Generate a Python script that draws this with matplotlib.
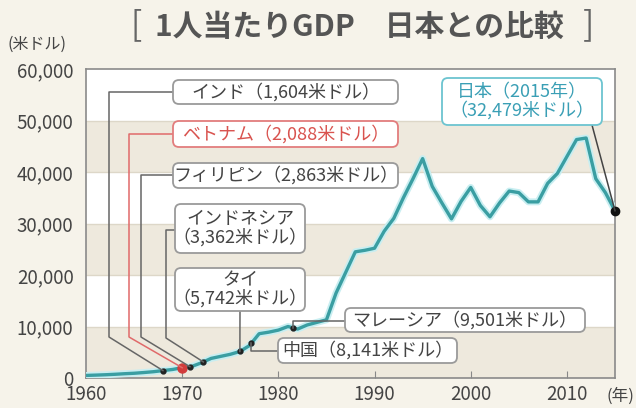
import matplotlib
matplotlib.use("Agg")
import matplotlib.pyplot as plt
import matplotlib.transforms as mtransforms
from matplotlib.patches import FancyBboxPatch
import numpy as np

plt.rcParams['font.family'] = ['Noto Sans CJK JP', 'DejaVu Sans']

# 日本の1人当たりGDP (米ドル), 図から読み取り
years = list(range(1960, 2016))
japan_gdp = [500, 560, 630, 720, 830, 920, 1060, 1220, 1440, 1660,
             2000, 2250, 2950, 3800, 4200, 4600, 5150, 6300, 8600, 8900,
             9300, 10000, 9500, 10300, 10800, 11300, 16500, 20500, 24500, 24800,
             25200, 28500, 31000, 35000, 38700, 42600, 37200, 34000, 30900, 34300,
             37000, 33500, 31300, 34000, 36300, 36000, 34200, 34200, 37800, 39700,
             43000, 46300, 46600, 38700, 36000, 32479]

countries = ['インド', 'ベトナム', 'フィリピン', 'インドネシア', 'タイ', '中国', 'マレーシア']
country_gdp = [1604, 2088, 2863, 3362, 5742, 8141, 9501]
match_year = [1968, 1970, 1970.8, 1972.2, 1976, 1977.2, 1981.5]

W, H = 636, 408
fig = plt.figure(figsize=(W / 100, H / 100), dpi=100)
fig.patch.set_facecolor('#f6f3ea')
ax = fig.add_axes([86 / W, 1 - 378 / H, (615 - 86) / W, (378 - 69) / H])
ax.set_facecolor('white')
ax.set_xlim(1960, 2015)
ax.set_ylim(0, 60000)

# 背景の帯
for lo in (0, 20000, 40000):
    ax.axhspan(lo, lo + 10000, color='#eee9dd', lw=0, zorder=0)
for v in range(10000, 60000, 10000):
    ax.axhline(v, color='#ddd7c8', lw=1, zorder=0.5)

ax.set_yticks(range(0, 60001, 10000))
ax.set_yticklabels(['{:,}'.format(v) for v in range(0, 60001, 10000)])
ax.set_xticks([1960, 1970, 1980, 1990, 2000, 2010])
ax.tick_params(axis='y', length=0, pad=9, labelsize=13.5, labelcolor='#444')
ax.tick_params(axis='x', direction='in', length=5, color='#888', pad=4,
               labelsize=13.5, labelcolor='#444')
for s in ax.spines.values():
    s.set_color('#8a8a8a')
    s.set_linewidth(1.2)

# 日本の線
ax.plot(years, japan_gdp, color='#c8eef1', lw=5, zorder=3, solid_capstyle='round')
ax.plot(years, japan_gdp, color='#3a9ea2', lw=2.4, zorder=4, solid_joinstyle='round')

dot_y = np.interp(match_year, years, japan_gdp)

# pixel coords (top-left origin)
pix = mtransforms.Affine2D().scale(1 / 100, -1 / 100).translate(0, H / 100) + fig.dpi_scale_trans


def to_pix(x, y):
    d = ax.transData.transform((x, y))
    return d[0], H - d[1]


def box(x0, y0, x1, y1, text, ec='#9a9a9a', tc='#444'):
    p = FancyBboxPatch((x0, y0), x1 - x0, y1 - y0,
                       boxstyle='round,pad=0,rounding_size=6',
                       fc='white', ec=ec, lw=1.3, transform=pix, zorder=6, clip_on=False)
    fig.add_artist(p)
    fig.text((x0 + x1) / 2, (y0 + y1) / 2, text, transform=pix, ha='center', va='center',
             fontsize=13, color=tc, zorder=7, linespacing=1.0)


def connector(pts, color='#666'):
    xs = [p[0] for p in pts]
    ys = [p[1] for p in pts]
    fig.add_artist(plt.Line2D(xs, ys, transform=pix, color=color, lw=1.1, zorder=2))


labels = ['{}（{:,}米ドル）'.format(c, v) for c, v in zip(countries, country_gdp)]
labels[3] = '{}\n（{:,}米ドル）'.format(countries[3], country_gdp[3])
labels[4] = '{}\n（{:,}米ドル）'.format(countries[4], country_gdp[4])

dp = [to_pix(x, y) for x, y in zip(match_year, dot_y)]

# connectors
connector([(173, 92), (109, 92), (109, 337), dp[0]])
connector([(173, 134), (129, 134), (129, 337), dp[1]], color='#e06a6a')
connector([(173, 175), (141, 175), (141, 337), dp[2]])
connector([(175, 230), (166, 230), (166, 338), dp[3]])
connector([(240, 311), dp[4]])
connector([dp[5], (dp[5][0], 351), (278, 351)])
connector([dp[6], (dp[6][0], 321), (345, 321)])
jp = to_pix(years[-1], japan_gdp[-1])
connector([(592, 125), jp], color='#444')

# boxes
box(173, 80, 398, 104, labels[0])
box(173, 121, 398, 147, labels[1], ec='#e27d7d', tc='#d9534f')
box(173, 163, 398, 188, labels[2])
box(175, 204, 305, 253, labels[3])
box(175, 268, 305, 311, labels[4])
box(278, 338, 457, 363, labels[5])
box(345, 308, 585, 332, labels[6])
box(442, 78, 602, 125, '日本（{}年）\n（{:,}米ドル）'.format(years[-1], japan_gdp[-1]),
    ec='#6cc4d0', tc='#3a9fb5')

# dots
for i in range(len(match_year)):
    if i == 1:
        ax.plot(match_year[i], dot_y[i], 'o', color='#d23c3c', ms=6.5, zorder=5)
    else:
        ax.plot(match_year[i], dot_y[i], 'o', color='#222', ms=3.5, zorder=5)
ax.plot(years[-1], japan_gdp[-1], 'o', color='#111', ms=6, zorder=8, clip_on=False)

# タイトル
fig.text(359, 27, '1人当たりGDP　日本との比較', transform=pix, ha='center', va='center',
         fontsize=21.5, fontweight='bold', color='#555')
fig.text(136, 26, '[', transform=pix, ha='center', va='center', fontsize=24, color='#666')
fig.text(588, 26, ']', transform=pix, ha='center', va='center', fontsize=24, color='#666')
fig.text(37, 44, '(米ドル)', transform=pix, ha='center', va='center', fontsize=11.5, color='#444')
fig.text(620, 396, '(年)', transform=pix, ha='center', va='center', fontsize=12, color='#444')

fig.savefig('out.png', dpi=100, facecolor=fig.get_facecolor())
